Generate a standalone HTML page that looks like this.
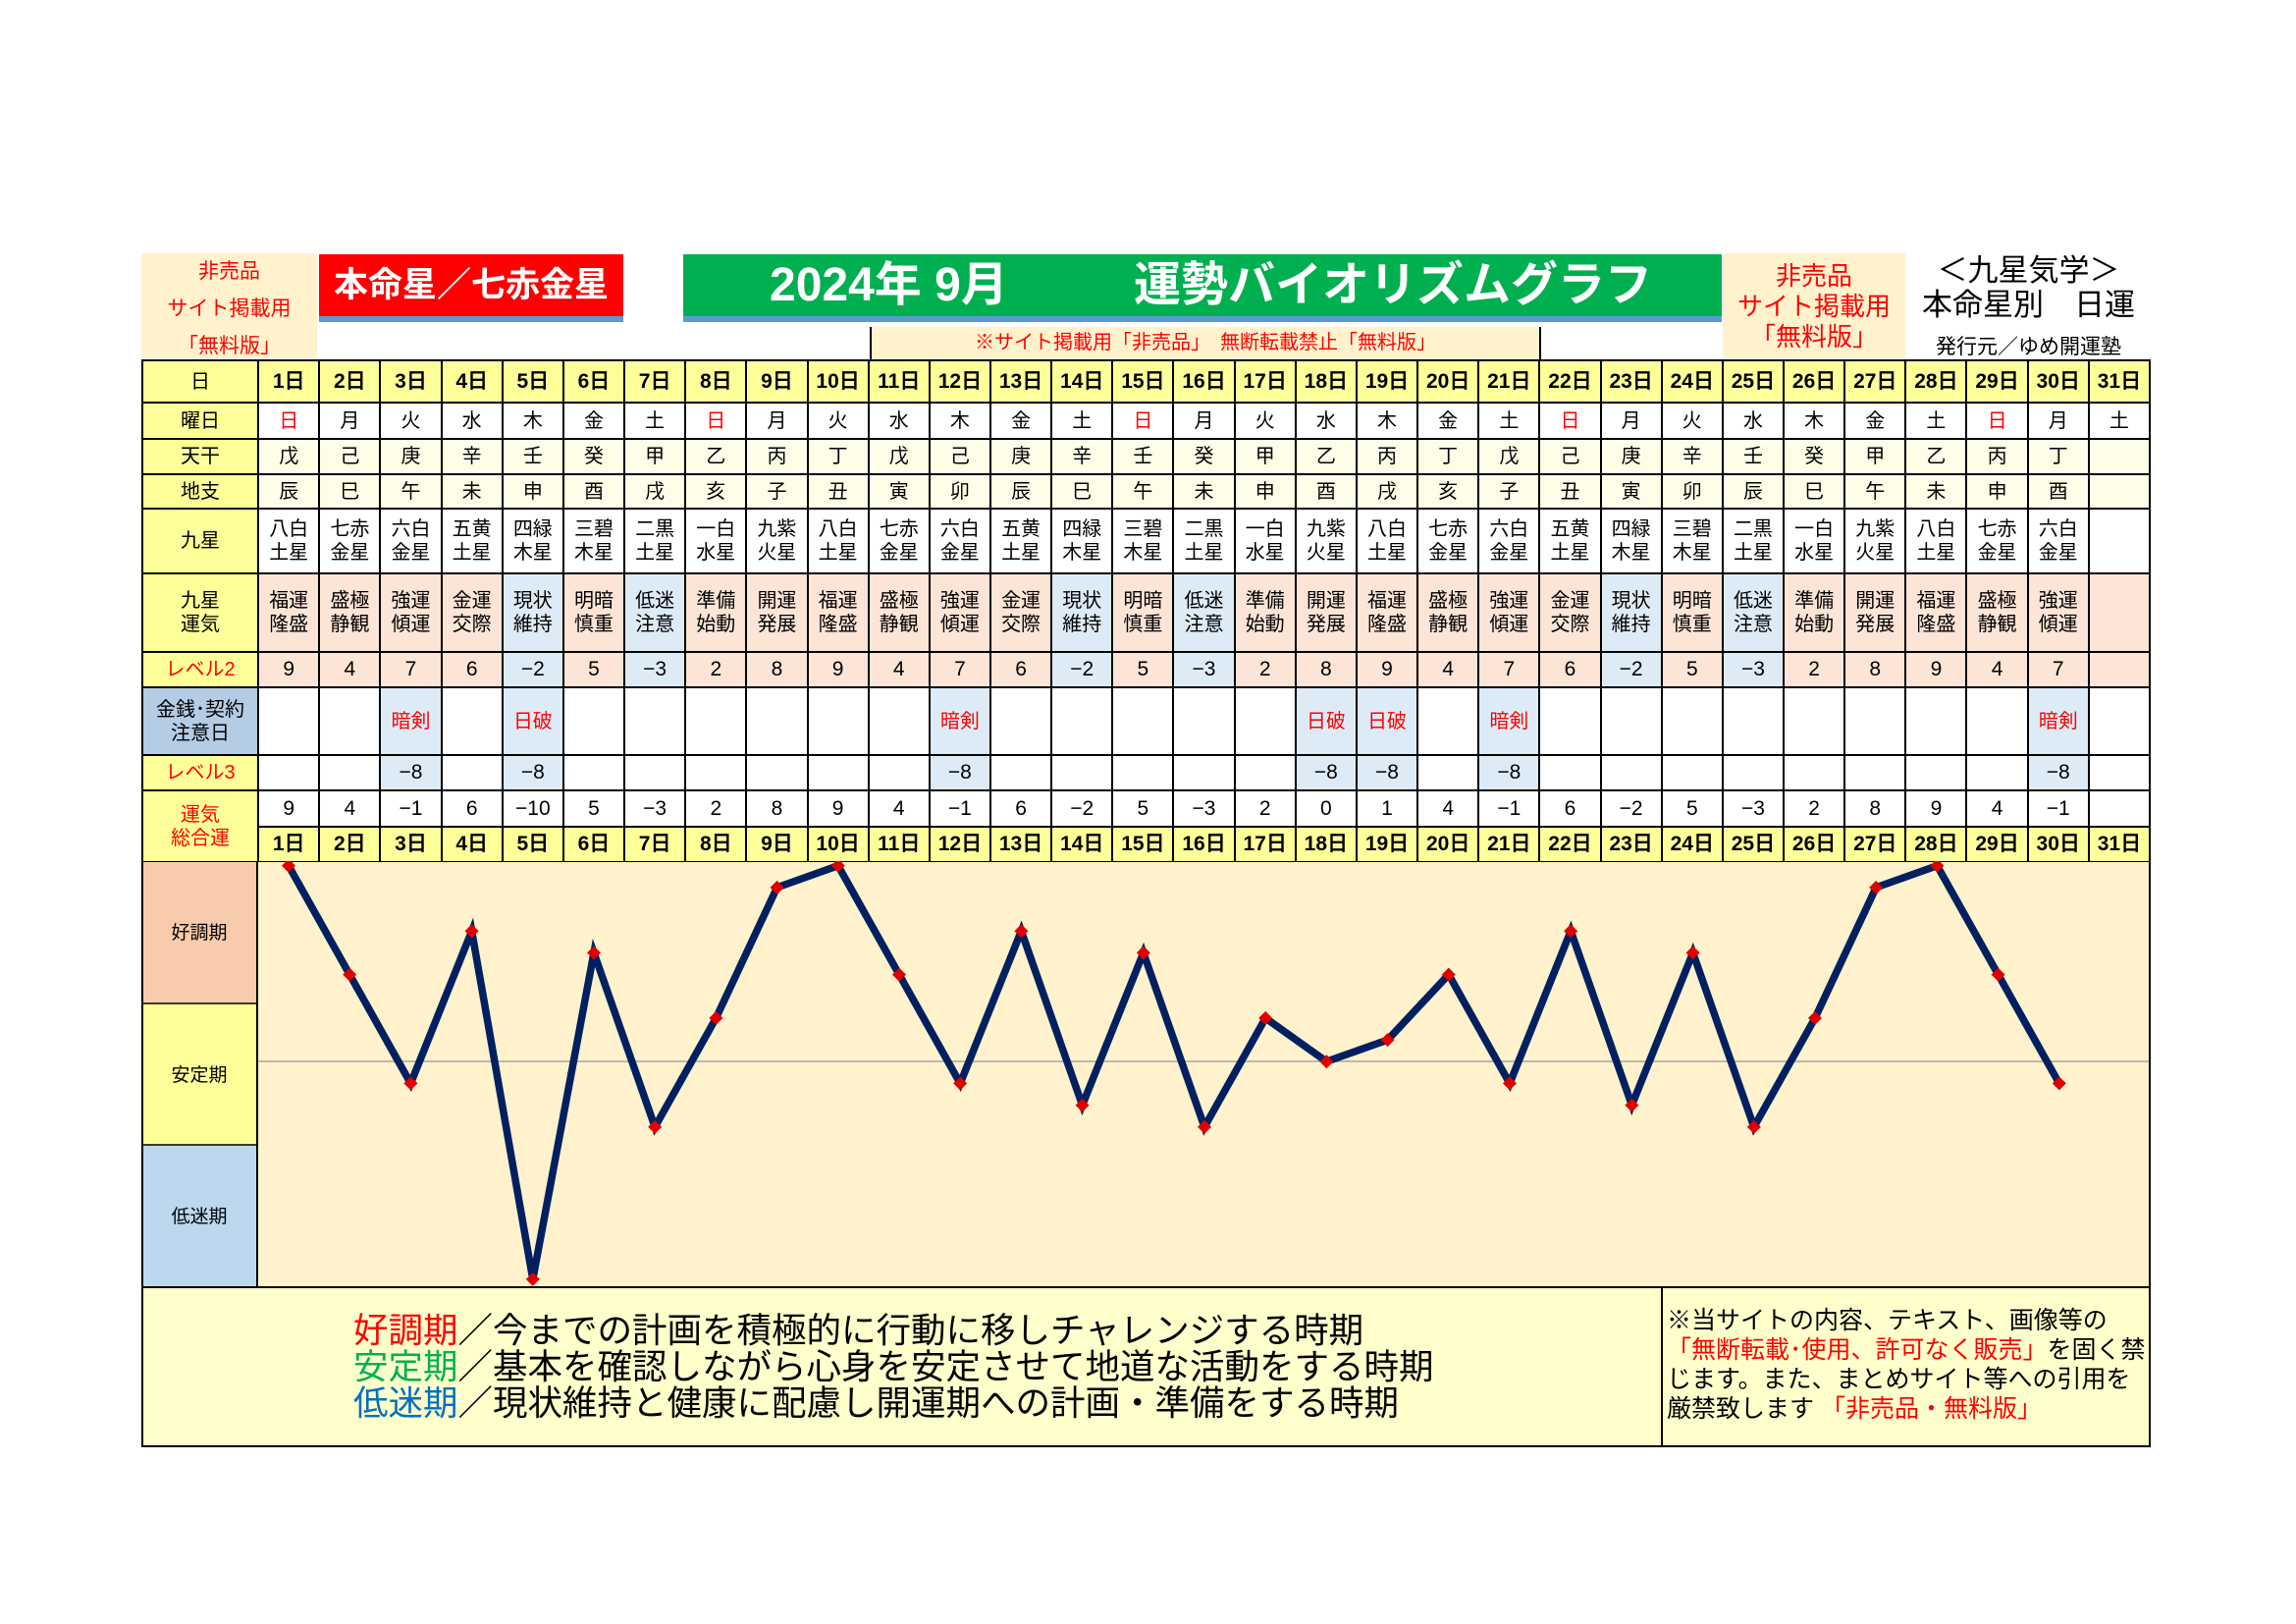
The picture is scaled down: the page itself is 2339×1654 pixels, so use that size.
<!DOCTYPE html>
<html><head><meta charset="utf-8">
<style>
body{margin:0;width:2339px;height:1654px;background:#fff;position:relative;overflow:hidden;font-family:"Liberation Sans","Noto Sans CJK JP",sans-serif;}
.abs{position:absolute;}
table{position:absolute;left:144px;top:366px;border-collapse:collapse;table-layout:fixed;width:2047px;}
td{border:2px solid #000;text-align:center;vertical-align:middle;padding:0;font-size:20px;line-height:24px;color:#000;overflow:hidden;}
.y{background:#ffff99}.w{background:#fff}.c{background:#fefee8}.p{background:#fce4d6}.b{background:#ddebf7}.lb{background:#b4cce4}
.r{color:#f00}.n{font-family:"Liberation Sans Narrow","Liberation Sans",sans-serif;font-weight:bold;font-size:21px}
.v{font-family:"Liberation Sans Narrow","Liberation Sans",sans-serif;font-size:21px}
</style></head><body>
<div class="abs" style="left:144px;top:258px;width:179px;height:107px;background:#fff2cc;color:#f00;font-size:21px;text-align:center;line-height:38px;">非売品<br>サイト掲載用<br>「無料版」</div>
<div class="abs" style="left:325px;top:259px;width:310px;height:63px;background:#f00;border-bottom:6px solid #5b9bd5;color:#fff;font-weight:bold;font-size:35px;text-align:center;line-height:63px;">本命星／七赤金星</div>
<div class="abs" style="left:696px;top:259px;width:1058px;height:63px;background:#00b050;border-bottom:6px solid #5b9bd5;color:#fff;font-weight:bold;font-size:48px;line-height:63px;"><span style="position:absolute;left:88px;">2024年 9月</span><span style="position:absolute;left:459px;">運勢バイオリズムグラフ</span></div>
<div class="abs" style="left:886px;top:333px;width:680px;height:33px;background:#fff2cc;border-left:2px solid #000;border-right:2px solid #000;color:#f00;font-size:20px;text-align:center;line-height:33px;">※サイト掲載用「非売品」　無断転載禁止「無料版」</div>
<div class="abs" style="left:1755px;top:258px;width:186px;height:107px;background:#fff2cc;color:#f00;font-size:26px;text-align:center;line-height:31px;padding-top:8px;box-sizing:border-box;">非売品<br>サイト掲載用<br>「無料版」</div>
<div class="abs" style="left:1944px;top:258px;width:245px;text-align:center;font-size:31px;line-height:35px;">＜九星気学＞<br>本命星別　日運</div>
<div class="abs" style="left:1944px;top:337px;width:245px;text-align:center;font-size:21px;">発行元／ゆめ開運塾</div>

<table>
<colgroup><col style="width:118px"><col span="31" style="width:62.1px"></colgroup>
<tr style="height:43px"><td class="y">日</td><td class="y n">1日</td><td class="y n">2日</td><td class="y n">3日</td><td class="y n">4日</td><td class="y n">5日</td><td class="y n">6日</td><td class="y n">7日</td><td class="y n">8日</td><td class="y n">9日</td><td class="y n">10日</td><td class="y n">11日</td><td class="y n">12日</td><td class="y n">13日</td><td class="y n">14日</td><td class="y n">15日</td><td class="y n">16日</td><td class="y n">17日</td><td class="y n">18日</td><td class="y n">19日</td><td class="y n">20日</td><td class="y n">21日</td><td class="y n">22日</td><td class="y n">23日</td><td class="y n">24日</td><td class="y n">25日</td><td class="y n">26日</td><td class="y n">27日</td><td class="y n">28日</td><td class="y n">29日</td><td class="y n">30日</td><td class="y n">31日</td></tr>
<tr style="height:37px"><td class="y">曜日</td><td class="w r">日</td><td class="w">月</td><td class="w">火</td><td class="w">水</td><td class="w">木</td><td class="w">金</td><td class="w">土</td><td class="w r">日</td><td class="w">月</td><td class="w">火</td><td class="w">水</td><td class="w">木</td><td class="w">金</td><td class="w">土</td><td class="w r">日</td><td class="w">月</td><td class="w">火</td><td class="w">水</td><td class="w">木</td><td class="w">金</td><td class="w">土</td><td class="w r">日</td><td class="w">月</td><td class="w">火</td><td class="w">水</td><td class="w">木</td><td class="w">金</td><td class="w">土</td><td class="w r">日</td><td class="w">月</td><td class="w">土</td></tr>
<tr style="height:36px"><td class="y">天干</td><td class="c">戊</td><td class="c">己</td><td class="c">庚</td><td class="c">辛</td><td class="c">壬</td><td class="c">癸</td><td class="c">甲</td><td class="c">乙</td><td class="c">丙</td><td class="c">丁</td><td class="c">戊</td><td class="c">己</td><td class="c">庚</td><td class="c">辛</td><td class="c">壬</td><td class="c">癸</td><td class="c">甲</td><td class="c">乙</td><td class="c">丙</td><td class="c">丁</td><td class="c">戊</td><td class="c">己</td><td class="c">庚</td><td class="c">辛</td><td class="c">壬</td><td class="c">癸</td><td class="c">甲</td><td class="c">乙</td><td class="c">丙</td><td class="c">丁</td><td class="c"></td></tr>
<tr style="height:35px"><td class="y">地支</td><td class="c">辰</td><td class="c">巳</td><td class="c">午</td><td class="c">未</td><td class="c">申</td><td class="c">酉</td><td class="c">戌</td><td class="c">亥</td><td class="c">子</td><td class="c">丑</td><td class="c">寅</td><td class="c">卯</td><td class="c">辰</td><td class="c">巳</td><td class="c">午</td><td class="c">未</td><td class="c">申</td><td class="c">酉</td><td class="c">戌</td><td class="c">亥</td><td class="c">子</td><td class="c">丑</td><td class="c">寅</td><td class="c">卯</td><td class="c">辰</td><td class="c">巳</td><td class="c">午</td><td class="c">未</td><td class="c">申</td><td class="c">酉</td><td class="c"></td></tr>
<tr style="height:66px"><td class="y">九星</td><td class="w">八白<br>土星</td><td class="w">七赤<br>金星</td><td class="w">六白<br>金星</td><td class="w">五黄<br>土星</td><td class="w">四緑<br>木星</td><td class="w">三碧<br>木星</td><td class="w">二黒<br>土星</td><td class="w">一白<br>水星</td><td class="w">九紫<br>火星</td><td class="w">八白<br>土星</td><td class="w">七赤<br>金星</td><td class="w">六白<br>金星</td><td class="w">五黄<br>土星</td><td class="w">四緑<br>木星</td><td class="w">三碧<br>木星</td><td class="w">二黒<br>土星</td><td class="w">一白<br>水星</td><td class="w">九紫<br>火星</td><td class="w">八白<br>土星</td><td class="w">七赤<br>金星</td><td class="w">六白<br>金星</td><td class="w">五黄<br>土星</td><td class="w">四緑<br>木星</td><td class="w">三碧<br>木星</td><td class="w">二黒<br>土星</td><td class="w">一白<br>水星</td><td class="w">九紫<br>火星</td><td class="w">八白<br>土星</td><td class="w">七赤<br>金星</td><td class="w">六白<br>金星</td><td class="w"></td></tr>
<tr style="height:80px"><td class="y">九星<br>運気</td><td class="p">福運<br>隆盛</td><td class="p">盛極<br>静観</td><td class="p">強運<br>傾運</td><td class="p">金運<br>交際</td><td class="b">現状<br>維持</td><td class="p">明暗<br>慎重</td><td class="b">低迷<br>注意</td><td class="p">準備<br>始動</td><td class="p">開運<br>発展</td><td class="p">福運<br>隆盛</td><td class="p">盛極<br>静観</td><td class="p">強運<br>傾運</td><td class="p">金運<br>交際</td><td class="b">現状<br>維持</td><td class="p">明暗<br>慎重</td><td class="b">低迷<br>注意</td><td class="p">準備<br>始動</td><td class="p">開運<br>発展</td><td class="p">福運<br>隆盛</td><td class="p">盛極<br>静観</td><td class="p">強運<br>傾運</td><td class="p">金運<br>交際</td><td class="b">現状<br>維持</td><td class="p">明暗<br>慎重</td><td class="b">低迷<br>注意</td><td class="p">準備<br>始動</td><td class="p">開運<br>発展</td><td class="p">福運<br>隆盛</td><td class="p">盛極<br>静観</td><td class="p">強運<br>傾運</td><td class="p"></td></tr>
<tr style="height:36px"><td class="y r">レベル2</td><td class="p v">9</td><td class="p v">4</td><td class="p v">7</td><td class="p v">6</td><td class="b v">−2</td><td class="p v">5</td><td class="b v">−3</td><td class="p v">2</td><td class="p v">8</td><td class="p v">9</td><td class="p v">4</td><td class="p v">7</td><td class="p v">6</td><td class="b v">−2</td><td class="p v">5</td><td class="b v">−3</td><td class="p v">2</td><td class="p v">8</td><td class="p v">9</td><td class="p v">4</td><td class="p v">7</td><td class="p v">6</td><td class="b v">−2</td><td class="p v">5</td><td class="b v">−3</td><td class="p v">2</td><td class="p v">8</td><td class="p v">9</td><td class="p v">4</td><td class="p v">7</td><td class="p"></td></tr>
<tr style="height:69px"><td class="lb">金銭･契約<br>注意日</td><td class="w"></td><td class="w"></td><td class="b r">暗剣</td><td class="w"></td><td class="b r">日破</td><td class="w"></td><td class="w"></td><td class="w"></td><td class="w"></td><td class="w"></td><td class="w"></td><td class="b r">暗剣</td><td class="w"></td><td class="w"></td><td class="w"></td><td class="w"></td><td class="w"></td><td class="b r">日破</td><td class="b r">日破</td><td class="w"></td><td class="b r">暗剣</td><td class="w"></td><td class="w"></td><td class="w"></td><td class="w"></td><td class="w"></td><td class="w"></td><td class="w"></td><td class="w"></td><td class="b r">暗剣</td><td class="w"></td></tr>
<tr style="height:36px"><td class="y r">レベル3</td><td class="w"></td><td class="w"></td><td class="b v">−8</td><td class="w"></td><td class="b v">−8</td><td class="w"></td><td class="w"></td><td class="w"></td><td class="w"></td><td class="w"></td><td class="w"></td><td class="b v">−8</td><td class="w"></td><td class="w"></td><td class="w"></td><td class="w"></td><td class="w"></td><td class="b v">−8</td><td class="b v">−8</td><td class="w"></td><td class="b v">−8</td><td class="w"></td><td class="w"></td><td class="w"></td><td class="w"></td><td class="w"></td><td class="w"></td><td class="w"></td><td class="w"></td><td class="b v">−8</td><td class="w"></td></tr>
<tr style="height:37px"><td class="y r" rowspan="2">運気<br>総合運</td><td class="w v">9</td><td class="w v">4</td><td class="w v">−1</td><td class="w v">6</td><td class="w v">−10</td><td class="w v">5</td><td class="w v">−3</td><td class="w v">2</td><td class="w v">8</td><td class="w v">9</td><td class="w v">4</td><td class="w v">−1</td><td class="w v">6</td><td class="w v">−2</td><td class="w v">5</td><td class="w v">−3</td><td class="w v">2</td><td class="w v">0</td><td class="w v">1</td><td class="w v">4</td><td class="w v">−1</td><td class="w v">6</td><td class="w v">−2</td><td class="w v">5</td><td class="w v">−3</td><td class="w v">2</td><td class="w v">8</td><td class="w v">9</td><td class="w v">4</td><td class="w v">−1</td><td class="w"></td></tr>
<tr style="height:36px"><td class="y n">1日</td><td class="y n">2日</td><td class="y n">3日</td><td class="y n">4日</td><td class="y n">5日</td><td class="y n">6日</td><td class="y n">7日</td><td class="y n">8日</td><td class="y n">9日</td><td class="y n">10日</td><td class="y n">11日</td><td class="y n">12日</td><td class="y n">13日</td><td class="y n">14日</td><td class="y n">15日</td><td class="y n">16日</td><td class="y n">17日</td><td class="y n">18日</td><td class="y n">19日</td><td class="y n">20日</td><td class="y n">21日</td><td class="y n">22日</td><td class="y n">23日</td><td class="y n">24日</td><td class="y n">25日</td><td class="y n">26日</td><td class="y n">27日</td><td class="y n">28日</td><td class="y n">29日</td><td class="y n">30日</td><td class="y n">31日</td></tr>
</table>

<svg class="abs" style="left:144px;top:877px" width="2047" height="597" viewBox="0 0 2047 597">
<defs><path id="d" d="M0,-7L7,0L0,7L-7,0Z" fill="#e00000"/></defs>
<rect x="0" y="0" width="118" height="145" fill="#f8cbad"/>
<rect x="0" y="145" width="118" height="144" fill="#ffff99"/>
<rect x="0" y="289" width="118" height="145" fill="#bdd7ee"/>
<rect x="118" y="0" width="1929" height="434" fill="#fff2cc"/>
<line x1="118" y1="204" x2="2047" y2="204" stroke="#a6a6a6" stroke-width="1.5"/>
<line x1="1" y1="145" x2="118" y2="145" stroke="#000" stroke-width="1.5"/>
<line x1="1" y1="289" x2="118" y2="289" stroke="#000" stroke-width="1.5"/>
<line x1="118" y1="0" x2="118" y2="434" stroke="#000" stroke-width="2"/>
<rect x="1" y="0" width="2045" height="434" fill="none" stroke="#000" stroke-width="2"/>
<g font-family="Liberation Sans,Noto Sans CJK JP,sans-serif" font-size="19" text-anchor="middle">
<text x="59" y="79">好調期</text><text x="59" y="224">安定期</text><text x="59" y="368">低迷期</text></g>
<polyline fill="none" stroke="#002060" stroke-width="7.5" stroke-linejoin="miter" points="150,4.7 212.2,115.6 274.4,226.4 336.6,71.2 398.8,425.9 461,93.4 523.2,270.8 585.4,159.9 647.6,26.9 709.8,4.7 772,115.6 834.2,226.4 896.4,71.2 958.6,248.6 1020.8,93.4 1083,270.8 1145.2,159.9 1207.4,204.2 1269.6,182.1 1331.8,115.6 1394,226.4 1456.2,71.2 1518.4,248.6 1580.6,93.4 1642.8,270.8 1705,159.9 1767.2,26.9 1829.4,4.7 1891.6,115.6 1953.8,226.4"/>
<use href="#d" x="150" y="4.7"/><use href="#d" x="212.2" y="115.6"/><use href="#d" x="274.4" y="226.4"/><use href="#d" x="336.6" y="71.2"/><use href="#d" x="398.8" y="425.9"/><use href="#d" x="461" y="93.4"/><use href="#d" x="523.2" y="270.8"/><use href="#d" x="585.4" y="159.9"/><use href="#d" x="647.6" y="26.9"/><use href="#d" x="709.8" y="4.7"/><use href="#d" x="772" y="115.6"/><use href="#d" x="834.2" y="226.4"/><use href="#d" x="896.4" y="71.2"/><use href="#d" x="958.6" y="248.6"/><use href="#d" x="1020.8" y="93.4"/><use href="#d" x="1083" y="270.8"/><use href="#d" x="1145.2" y="159.9"/><use href="#d" x="1207.4" y="204.2"/><use href="#d" x="1269.6" y="182.1"/><use href="#d" x="1331.8" y="115.6"/><use href="#d" x="1394" y="226.4"/><use href="#d" x="1456.2" y="71.2"/><use href="#d" x="1518.4" y="248.6"/><use href="#d" x="1580.6" y="93.4"/><use href="#d" x="1642.8" y="270.8"/><use href="#d" x="1705" y="159.9"/><use href="#d" x="1767.2" y="26.9"/><use href="#d" x="1829.4" y="4.7"/><use href="#d" x="1891.6" y="115.6"/><use href="#d" x="1953.8" y="226.4"/>
<rect x="1" y="434" width="2045" height="162" fill="#ffffcc" stroke="#000" stroke-width="2"/>
<line x1="1549" y1="434" x2="1549" y2="596" stroke="#000" stroke-width="2"/>
<g font-family="Liberation Sans,Noto Sans CJK JP,sans-serif" font-size="35.5">
<text x="216" y="490"><tspan fill="#ff0000">好調期</tspan>／今までの計画を積極的に行動に移しチャレンジする時期</text>
<text x="216" y="527"><tspan fill="#00b050">安定期</tspan>／基本を確認しながら心身を安定させて地道な活動をする時期</text>
<text x="216" y="564"><tspan fill="#0070c0">低迷期</tspan>／現状維持と健康に配慮し開運期への計画・準備をする時期</text>
</g>
<g font-family="Liberation Sans,Noto Sans CJK JP,sans-serif" font-size="25">
<text x="1554" y="476">※当サイトの内容、テキスト、画像等の</text>
<text x="1554" y="506"><tspan fill="#ff0000">「無断転載･使用、許可なく販売」</tspan>を固く禁</text>
<text x="1554" y="536">じます。また、まとめサイト等への引用を</text>
<text x="1554" y="566">厳禁致します <tspan fill="#ff0000">「非売品・無料版」</tspan></text>
</g>
</svg>
</body></html>
